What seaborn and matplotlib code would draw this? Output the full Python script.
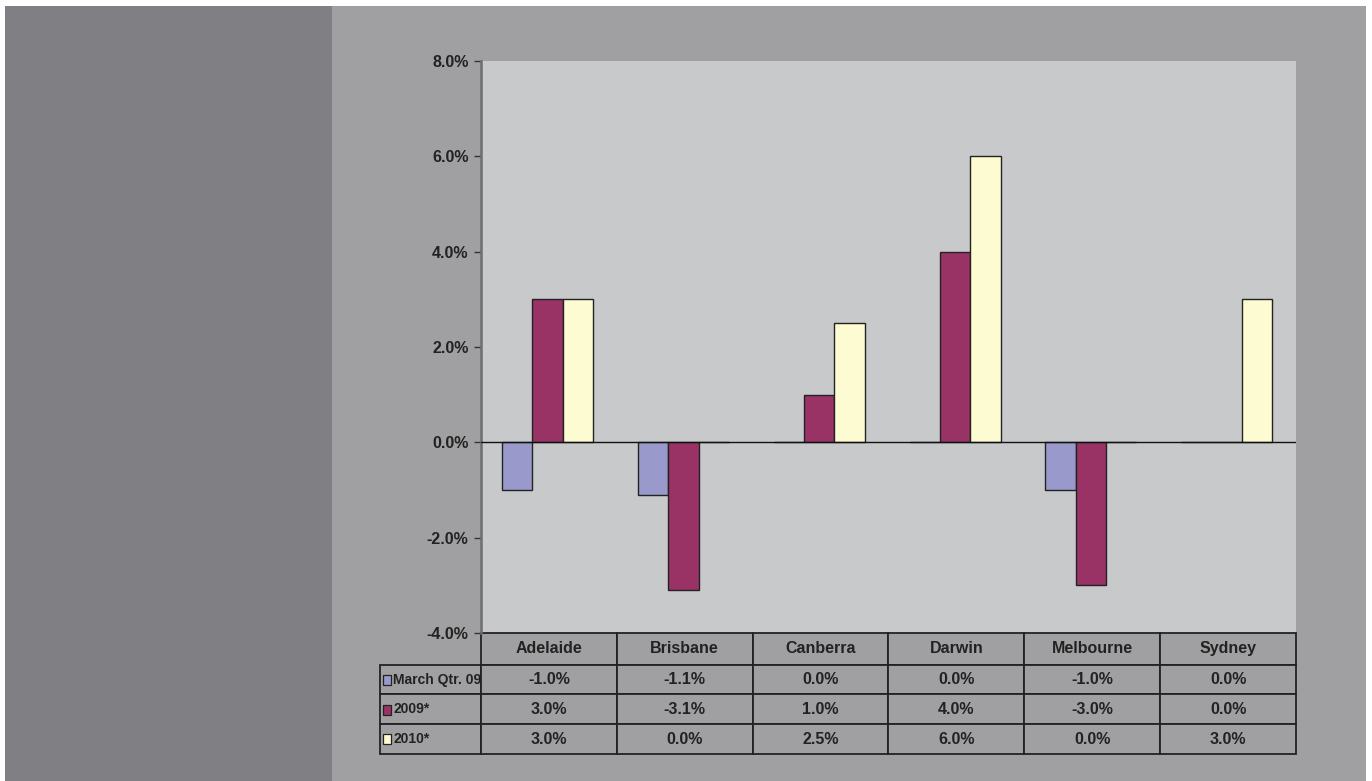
import matplotlib
matplotlib.use("Agg")
import matplotlib.pyplot as plt
import seaborn as sns
import pandas as pd
from matplotlib.patches import Rectangle
from matplotlib.table import Table
from matplotlib import font_manager

# ---- data ----
categories = ["Adelaide", "Brisbane", "Canberra", "Darwin", "Melbourne", "Sydney"]
series_names = ["March Qtr. 09", "2009*", "2010*"]
march_qtr_09 = [-1.0, -1.1, 0.0, 0.0, -1.0, 0.0]
y2009 = [3.0, -3.1, 1.0, 4.0, -3.0, 0.0]
y2010 = [3.0, 0.0, 2.5, 6.0, 0.0, 3.0]
yticks = [-4, -2, 0, 2, 4, 6, 8]
colors = ["#9999cc", "#993366", "#fdfbd2"]

series_values = [march_qtr_09, y2009, y2010]
df = pd.DataFrame({
    "city": categories * 3,
    "series": [s for s in series_names for _ in categories],
    "value": march_qtr_09 + y2009 + y2010,
})

sns.set_theme(style="white")
avail = {f.name for f in font_manager.fontManager.ttflist}
fam = [f for f in ["Liberation Sans Narrow", "Liberation Sans", "DejaVu Sans"] if f in avail]
plt.rcParams["font.family"] = fam

W, H = 1372, 781
fig = plt.figure(figsize=(W / 100, H / 100), dpi=100, facecolor="white")
# background panels
fig.patches.append(Rectangle((5 / W, 0), (332 - 5) / W, 1 - 6 / H, transform=fig.transFigure,
                             facecolor="#807f84", edgecolor="none", zorder=-10))
fig.patches.append(Rectangle((332 / W, 0), (1366 - 332) / W, 1 - 6 / H, transform=fig.transFigure,
                             facecolor="#a0a0a2", edgecolor="none", zorder=-10))

ax = fig.add_axes([481 / W, 1 - 633 / H, (1296 - 481) / W, (633 - 61) / H])
ax.set_facecolor("#c8c9cb")

sns.barplot(data=df, x="city", y="value", hue="series", order=categories,
            hue_order=series_names, palette=colors, width=0.67, gap=0,
            edgecolor="#222222", linewidth=1.0, saturation=1, ax=ax, legend=False)

ax.axhline(0, color="#111111", lw=1.0, zorder=4)
ax.set_ylim(-4, 8)
ax.set_xlim(-0.5 + 0.01, len(categories) - 0.5 + 0.01)
ax.set_yticks(yticks)
ax.set_yticklabels([f"{v:.1f}%" for v in yticks], fontsize=11.5, fontweight="bold", color="#222222")
ax.set_xticks([])
ax.set_xlabel("")
ax.set_ylabel("")
for s in ["top", "right", "bottom"]:
    ax.spines[s].set_visible(False)
ax.spines["left"].set_color("#6e6e6e")
ax.spines["left"].set_linewidth(1.8)
ax.tick_params(axis="y", left=True, length=5, width=1, color="#333333", pad=4)

# ---- data table ----
px_w = 1296 - 481
px_h = 633 - 61
tbl = Table(ax, bbox=[(380 - 481) / px_w, -(754 - 633) / px_h, (1296 - 380) / px_w, (754 - 633) / px_h])
lab_w = 101
cat_w = (1296 - 481) / 6
hdr_h, row_h = 32, 30
for j, c in enumerate(categories):
    cell = tbl.add_cell(0, j + 1, width=cat_w, height=hdr_h, text=c, loc="center",
                        facecolor="#a0a0a2", edgecolor="#222222")
label_cells = []
for i, (name, vals) in enumerate(zip(series_names, series_values)):
    cell = tbl.add_cell(i + 1, 0, width=lab_w, height=row_h, text=name, loc="left",
                        facecolor="#a0a0a2", edgecolor="#222222")
    cell.PAD = 0.13
    label_cells.append(cell)
    for j, v in enumerate(vals):
        tbl.add_cell(i + 1, j + 1, width=cat_w, height=row_h, text=f"{v:.1f}%", loc="center",
                     facecolor="#a0a0a2", edgecolor="#222222")
tbl.auto_set_font_size(False)
tbl.set_fontsize(11.5)
for (r, c), cell in tbl.get_celld().items():
    cell.set_linewidth(1.3)
    cell.get_text().set_fontweight("bold")
    cell.get_text().set_color("#222222")
    cell.set_clip_on(False)
for cell in label_cells:
    cell.get_text().set_fontsize(10)
ax.add_table(tbl)

# legend keys in row labels
row_centers = [680, 709.5, 739]
for yc, col in zip(row_centers, colors):
    ax.add_patch(Rectangle(((383 - 481) / px_w, -(yc + 5 - 633) / px_h), 8 / px_w, 10 / px_h,
                           transform=ax.transAxes, facecolor=col, edgecolor="#222222",
                           lw=0.9, clip_on=False, zorder=5))

fig.savefig("out.png", dpi=100, facecolor=fig.get_facecolor())
